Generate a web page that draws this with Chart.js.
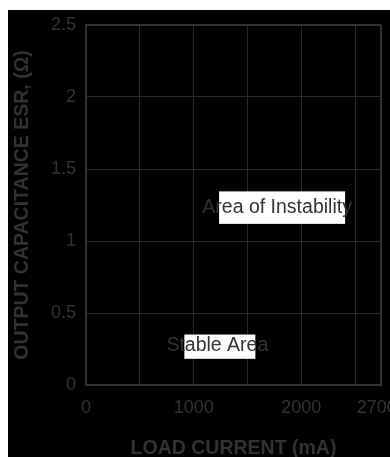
<!DOCTYPE html>
<html><head><meta charset="utf-8">
<script src="https://cdn.jsdelivr.net/npm/chart.js@4/dist/chart.umd.min.js"></script>
<style>
html,body{margin:0;padding:0;background:#fff;overflow:hidden;width:390px;height:457px;}
#c{position:absolute;left:8px;top:10px;background:#000;}
</style></head><body>
<canvas id="c" width="400" height="452"></canvas>
<script>
// ---- data ----
const yTickValues = [0, 0.5, 1, 1.5, 2, 2.5];
const yTickLabels = ['0', '0.5', '1', '1.5', '2', '2.5'];
const xTickValues = [0, 500, 1000, 1500, 2000, 2500, 2700, 2740];
const xTickLabels = ['0', '', '1000', '', '2000', '', '2700', ''];
const xGridShown = [true, true, true, true, true, true, false, true];
const xMin = 0, xMax = 2740, yMin = 0, yMax = 2.5;
const regionLabels = ['Area of Instability', 'Stable Area'];
const regionX = [1775, 1220];
const regionY = [1.23, 0.27];
const xTitle = 'LOAD CURRENT (mA)';
const yTitle = 'OUTPUT CAPACITANCE ESR, (\u03A9)';

// ---- styles ----
const FONT = '"Liberation Sans", Arial, Helvetica, sans-serif';
const TEXT = '#333333';
const GRID = '#2a2a2a';
const BORDER = '#333333';
const boxStyles = [{l: -58, r: 68, t: -16.5, b: 16}, {l: -33, r: 38, t: -11.6, b: 12.7}];

const regionPlugin = {
  id: 'regions',
  afterDraw(chart) {
    const {ctx, scales: {x, y}} = chart;
    ctx.save();
    ctx.font = '19.5px ' + FONT;
    ctx.textAlign = 'center';
    ctx.textBaseline = 'middle';
    regionLabels.forEach((t, i) => {
      const px = x.getPixelForValue(regionX[i]);
      const py = y.getPixelForValue(regionY[i]);
      const b = boxStyles[i];
      ctx.fillStyle = '#ffffff';
      ctx.fillRect(px + b.l, py + b.t, b.r - b.l, b.b - b.t);
      ctx.fillStyle = TEXT;
      ctx.fillText(t, px, py);
    });
    ctx.restore();
  }
};

const isEdge = (c, n) => c.index === 0 || c.index === n - 1;
const noPad = s => { s.paddingTop = 0; s.paddingBottom = 0; s.paddingLeft = 0; s.paddingRight = 0; };

new Chart(document.getElementById('c'), {
  type: 'scatter',
  data: {datasets: []},
  plugins: [regionPlugin],
  options: {
    responsive: false,
    animation: false,
    devicePixelRatio: 1,
    layout: {padding: {left: 0, top: 15, right: 27, bottom: 0}},
    plugins: {legend: {display: false}, tooltip: {enabled: false}},
    scales: {
      x: {
        type: 'linear', min: xMin, max: xMax,
        afterBuildTicks: s => { s.ticks = xTickValues.map(v => ({value: v})); },
        afterFit: s => { s.height = 77; noPad(s); },
        ticks: {
          callback: (v, i) => xTickLabels[i],
          autoSkip: false, maxRotation: 0, minRotation: 0, padding: 12,
          color: TEXT, font: {size: 18, family: FONT}
        },
        grid: {
          color: c => !xGridShown[c.index] ? 'rgba(0,0,0,0)' : (isEdge(c, xTickValues.length) ? BORDER : GRID),
          lineWidth: c => isEdge(c, xTickValues.length) ? 2 : 1,
          drawTicks: false
        },
        border: {display: true, color: BORDER, width: 2},
        title: {display: true, text: xTitle, color: TEXT,
          font: {size: 19.5, weight: 'bold', family: FONT}, padding: {top: 0, bottom: 1.3}}
      },
      y: {
        type: 'linear', min: yMin, max: yMax,
        afterBuildTicks: s => { s.ticks = yTickValues.map(v => ({value: v})); },
        afterFit: s => { s.width = 78; noPad(s); },
        ticks: {
          callback: (v, i) => yTickLabels[i],
          autoSkip: false, padding: 10,
          color: TEXT, font: {size: 18, family: FONT}
        },
        grid: {
          color: c => isEdge(c, yTickValues.length) ? BORDER : GRID,
          lineWidth: c => isEdge(c, yTickValues.length) ? 2 : 1,
          drawTicks: false
        },
        border: {display: true, color: BORDER, width: 2},
        title: {display: true, text: yTitle, color: TEXT,
          font: {size: 19.5, weight: 'bold', family: FONT}, padding: {top: 3, bottom: 0}}
      }
    }
  }
});
</script>
</body></html>
